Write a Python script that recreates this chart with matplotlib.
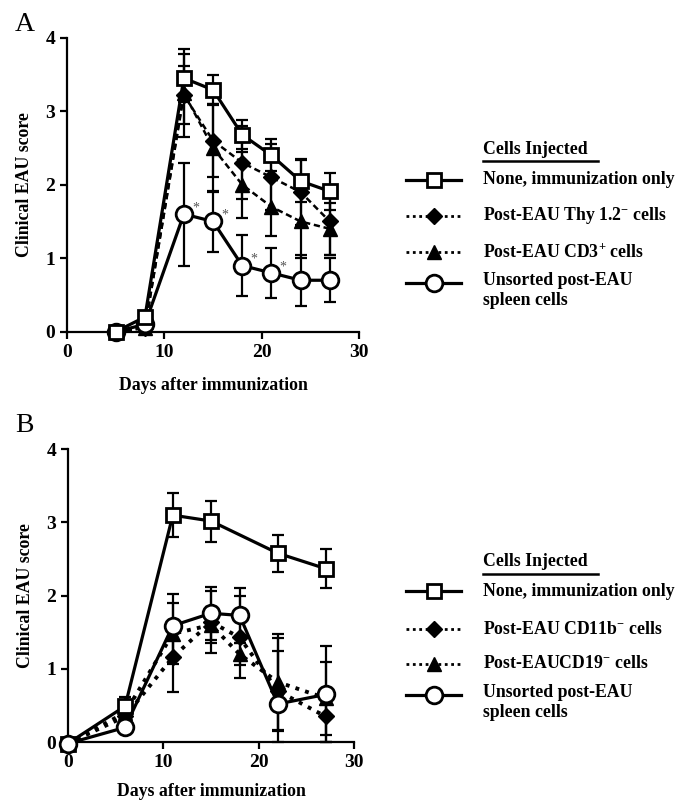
import numpy as np
import matplotlib
matplotlib.use('Agg')
import matplotlib.pyplot as plt

plt.rcParams['font.family'] = 'Liberation Serif'
plt.rcParams['font.weight'] = 'bold'
plt.rcParams['mathtext.fontset'] = 'custom'
plt.rcParams['mathtext.rm'] = 'Liberation Serif:bold'
plt.rcParams['mathtext.bf'] = 'Liberation Serif:bold'
plt.rcParams['mathtext.default'] = 'bf'

# ---- panel A data ----
days_a = [5, 8, 12, 15, 18, 21, 24, 27]
none_a = [0, 0.2, 3.45, 3.29, 2.68, 2.4, 2.05, 1.91]
none_a_err = [0, 0, 0.33, 0.2, 0.2, 0.22, 0.29, 0.25]
thy_a = [0, 0.05, 3.22, 2.6, 2.3, 2.1, 1.9, 1.5]
thy_a_err = [0, 0, 0.4, 0.5, 0.5, 0.45, 0.45, 0.45]
cd3_a = [0, 0.05, 3.25, 2.5, 2.0, 1.7, 1.5, 1.4]
cd3_a_err = [0, 0, 0.6, 0.6, 0.45, 0.4, 0.5, 0.35]
uns_a = [0, 0.1, 1.6, 1.5, 0.9, 0.8, 0.7, 0.7]
uns_a_err = [0, 0, 0.7, 0.42, 0.41, 0.34, 0.35, 0.3]
star_days = [12, 15, 18, 21]

# ---- panel B data ----
days_b = [0, 6, 11, 15, 18, 22, 27]
none_b = [-0.02, 0.49, 3.1, 3.02, None, 2.58, 2.37]
none_b_err = [0, 0.12, 0.3, 0.28, 0, 0.25, 0.27]
cd11_b = [-0.02, 0.35, 1.16, 1.64, 1.43, 0.7, 0.35]
cd11_b_err = [0, 0.05, 0.48, 0.42, 0.56, 0.55, 0.35]
cd19_b = [-0.02, 0.4, 1.48, 1.6, 1.2, 0.82, 0.6]
cd19_b_err = [0, 0.05, 0.42, 0.25, 0.15, 0.65, 0.5]
uns_b = [-0.02, 0.2, 1.59, 1.76, 1.73, 0.52, 0.65]
uns_b_err = [0, 0, 0.43, 0.36, 0.37, 0.9, 0.66]

labels_a = ['None, immunization only', r'Post-EAU Thy 1.2$^{-}$ cells',
            r'Post-EAU CD3$^{+}$ cells', 'Unsorted post-EAU\nspleen cells']
labels_b = ['None, immunization only', r'Post-EAU CD11b$^{-}$ cells',
            r'Post-EAUCD19$^{-}$ cells', 'Unsorted post-EAU\nspleen cells']

fig = plt.figure(figsize=(6.85, 8.11), dpi=100)

sq = dict(marker='s', ms=10.5, mfc='white', mec='black', mew=2)
di = dict(marker='D', ms=8.5, mfc='black', mec='black')
tr = dict(marker='^', ms=10, mfc='black', mec='black')
ci = dict(marker='o', ms=12, mfc='white', mec='black', mew=2)
eb = dict(ecolor='black', elinewidth=1.6, capsize=4, capthick=1.6, clip_on=False)

fs = 12.8


def series(ax, x, y, e, ls, lw, style, z):
    x = [a for a, b in zip(x, y) if b is not None]
    ee = [c for b, c in zip(y, e) if b is not None]
    y = [b for b in y if b is not None]
    lower = [min(c, max(b, 0)) for b, c in zip(y, ee)]
    ax.errorbar(x, y, yerr=[lower, ee], fmt='none', zorder=z - 1, **eb)
    ax.plot(x, y, color='black', ls=ls, lw=lw, zorder=z, clip_on=False, **style)


def style_axes(ax):
    ax.set_xlim(0, 30)
    ax.set_ylim(0, 4)
    ax.set_xticks([0, 10, 20, 30])
    ax.set_yticks([0, 1, 2, 3, 4])
    for s in ['top', 'right']:
        ax.spines[s].set_visible(False)
    for s in ['left', 'bottom']:
        ax.spines[s].set_linewidth(1.6)
    ax.tick_params(width=1.6, length=5, labelsize=14, direction='out')
    for t in ax.get_xticklabels() + ax.get_yticklabels():
        t.set_fontweight('bold')
    ax.set_ylabel('Clinical EAU score', fontsize=fs, fontweight='bold', labelpad=9)


# panel A
axA = fig.add_axes([0.098, 0.591, 0.426, 0.3625])
dash_a = (0, (2.5, 1.5))
series(axA, days_a, thy_a, thy_a_err, dash_a, 1.8, di, 4)
series(axA, days_a, cd3_a, cd3_a_err, dash_a, 1.8, tr, 4)
series(axA, days_a, uns_a, uns_a_err, '-', 2.3, ci, 6)
series(axA, days_a, none_a, none_a_err, '-', 2.3, sq, 8)
for d in star_days:
    axA.annotate('*', (d, uns_a[days_a.index(d)]), xytext=(6, 2), textcoords='offset points',
                 fontsize=10, color='#555555', fontweight='normal')
style_axes(axA)
axA.set_xlabel('Days after immunization', fontsize=fs, fontweight='bold', labelpad=12)
fig.text(0.022, 0.962, 'A', fontsize=20, fontweight='normal')

# panel B
axB = fig.add_axes([0.099, 0.085, 0.418, 0.361])
dot_b = (0, (1, 1.6))
series(axB, days_b, cd11_b, cd11_b_err, dot_b, 2.8, di, 4)
series(axB, days_b, cd19_b, cd19_b_err, dot_b, 2.8, tr, 4)
series(axB, days_b, none_b, none_b_err, '-', 2.3, sq, 6)
series(axB, days_b, uns_b, uns_b_err, '-', 2.3, ci, 8)
style_axes(axB)
axB.set_xlabel('Days after immunization', fontsize=fs, fontweight='bold', labelpad=9)
fig.text(0.022, 0.467, 'B', fontsize=20, fontweight='normal')

# legends drawn in pixel coordinates
lg = fig.add_axes([0, 0, 1, 1])
lg.set_xlim(0, 685)
lg.set_ylim(811, 0)
lg.axis('off')


def legend(top, rows, labels, dashed):
    lg.text(483, top, 'Cells Injected', fontsize=fs, fontweight='bold', va='center')
    lg.plot([483, 598], [top + 12, top + 12], color='black', lw=1.8)
    styles = [sq, di, tr, ci]
    for i, (yy, lab) in enumerate(zip(rows, labels)):
        ls = dashed if i in (1, 2) else '-'
        lw = 2 if i in (1, 2) else 2.3
        lg.plot([406, 461], [yy, yy], color='black', ls=ls, lw=lw)
        lg.plot([434], [yy], color='black', **styles[i])
        if i == 3:
            lg.text(483, yy - 11, lab, fontsize=fs, fontweight='bold', va='top', linespacing=1.2)
        else:
            lg.text(483, yy, lab, fontsize=fs, fontweight='bold', va='center')


legend(149, [180, 216, 252, 283], labels_a, (0, (1, 1.3)))
legend(562, [591, 629, 664, 695], labels_b, (0, (1, 1.3)))

fig.savefig('out.png', dpi=100)
